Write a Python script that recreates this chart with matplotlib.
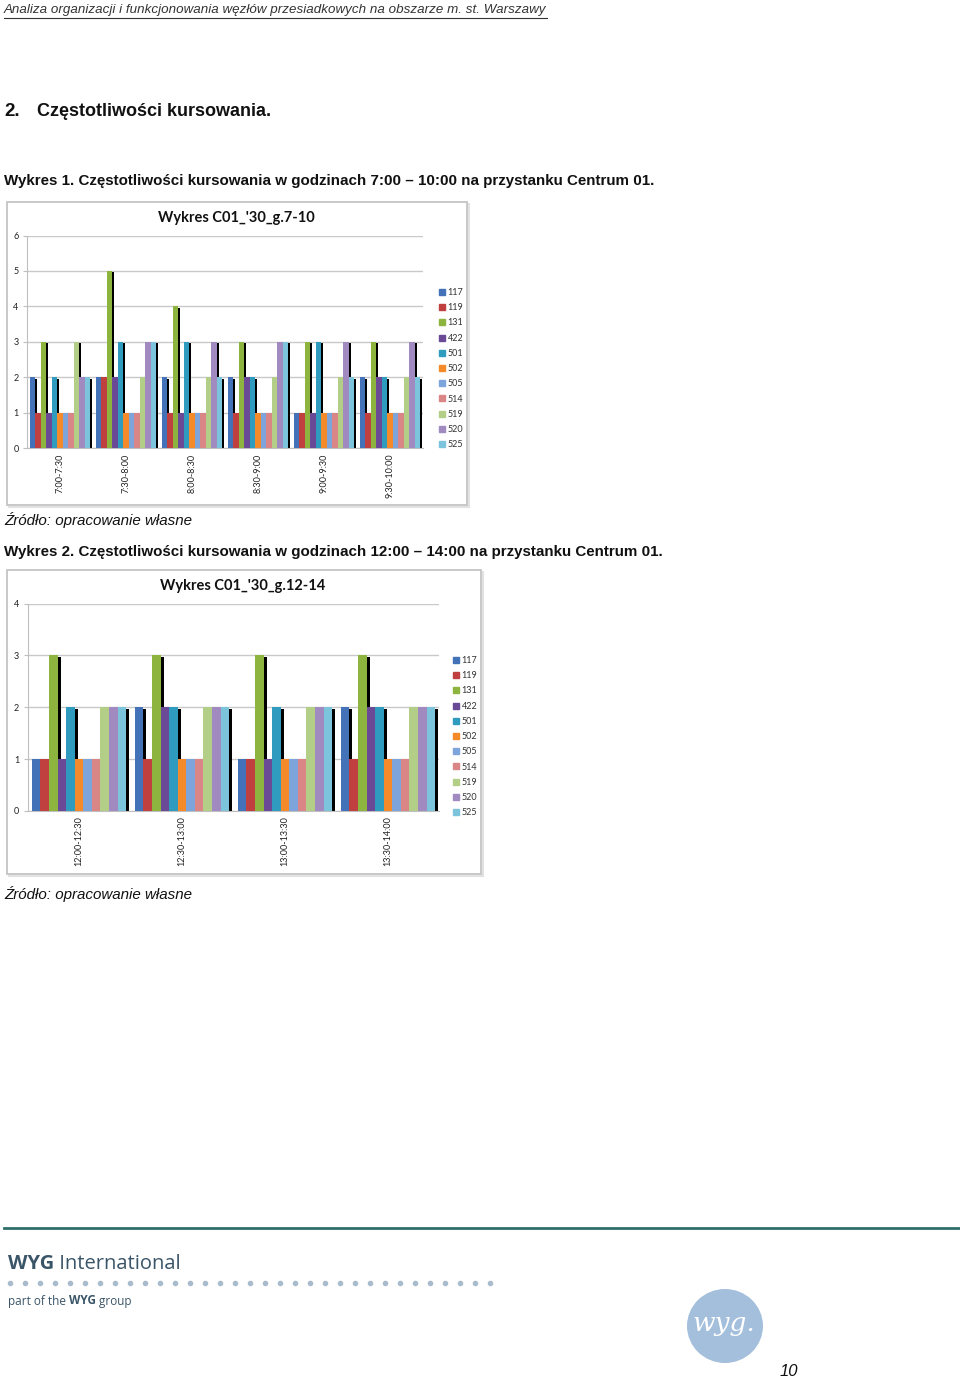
import numpy as np
import matplotlib
matplotlib.use('agg')
import matplotlib.pyplot as plt
from matplotlib.patches import Rectangle, Ellipse
from matplotlib.lines import Line2D

W, H = 960, 1380

# --- data ---------------------------------------------------------------
lines = ['117', '119', '131', '422', '501', '502', '505', '514', '519', '520', '525']
colors = ['#4472B8', '#C0403F', '#8DB43F', '#6A4A96', '#2E9BBF', '#F48A2A',
          '#7EA4DC', '#DB8686', '#B3CF87', '#A08AC0', '#7CC4DC']

slots1 = ['7:00-7:30', '7:30-8:00', '8:00-8:30', '8:30-9:00', '9:00-9:30', '9:30-10:00']
# one row per line, one column per time slot
freq1 = [[2, 2, 2, 2, 1, 2],
         [1, 2, 1, 1, 1, 1],
         [3, 5, 4, 3, 3, 3],
         [1, 2, 1, 2, 1, 2],
         [2, 3, 3, 2, 3, 2],
         [1, 1, 1, 1, 1, 1],
         [1, 1, 1, 1, 1, 1],
         [1, 1, 1, 1, 1, 1],
         [3, 2, 2, 2, 2, 2],
         [2, 3, 3, 3, 3, 3],
         [2, 3, 2, 3, 2, 2]]

slots2 = ['12:00-12:30', '12:30-13:00', '13:00-13:30', '13:30-14:00']
freq2 = [[1, 2, 1, 2],
         [1, 1, 1, 1],
         [3, 3, 3, 3],
         [1, 2, 1, 2],
         [2, 2, 2, 2],
         [1, 1, 1, 1],
         [1, 1, 1, 1],
         [1, 1, 1, 1],
         [2, 2, 2, 2],
         [2, 2, 2, 2],
         [2, 2, 2, 2]]

narrow = ['Liberation Sans Narrow', 'Liberation Sans']
chartfont = ['Lato', 'DejaVu Sans']
footfont = ['Open Sans', 'DejaVu Sans']
txtcol = '#111111'


def fx(x):
    return x / W


def fy(y):
    return 1 - y / H


fig = plt.figure(figsize=(W / 100, H / 100), dpi=100)
fig.patch.set_facecolor('white')


def chart(frame, axbox, title, title_xy, slots, data, ymax, leg_xy):
    x0, y0, x1, y1 = frame
    # chart frame with a soft shadow
    fig.patches.append(Rectangle((fx(x0 + 2), fy(y1 + 2)), fx(x1 - x0), (y1 - y0) / H,
                                 transform=fig.transFigure, facecolor='none',
                                 edgecolor='#e2e2e2', lw=1.5, zorder=-2))
    fig.patches.append(Rectangle((fx(x0), fy(y1)), fx(x1 - x0), (y1 - y0) / H,
                                 transform=fig.transFigure, facecolor='white',
                                 edgecolor='#c4c4c4', lw=1.3, zorder=-1))
    l, r, top, bot = axbox
    ax = fig.add_axes([fx(l), fy(bot), fx(r - l), (bot - top) / H])
    ax.set_zorder(1)
    ax.set_facecolor('none')
    n = len(lines)
    ng = len(slots)
    w = 1.0 / (n + 1)
    xg = np.arange(ng)
    for i in range(n):
        xs = xg - 0.5 + w / 2 + (i + 0.5) * w
        vals = np.array(data[i], dtype=float)
        # black drop shadow behind the bars
        ax.bar(xs + 0.35 * w, vals - 0.04 * ymax / 6, width=w, color='black',
               zorder=2, linewidth=0)
        ax.bar(xs, vals, width=w, color=colors[i], zorder=3, linewidth=0,
               label=lines[i])
    ax.set_xlim(-0.5, ng - 0.5)
    ax.set_ylim(0, ymax)
    ax.set_yticks(range(ymax + 1))
    ax.set_xticks(xg)
    ax.set_xticklabels(slots, rotation=90, fontsize=6.5, family=chartfont, color='#222222')
    ax.tick_params(axis='x', length=0, pad=4)
    ax.tick_params(axis='y', length=3, color='#bfbfbf', labelsize=6.5, pad=3,
                   labelcolor='#222222')
    for t in ax.get_yticklabels():
        t.set_family(chartfont)
    ax.grid(axis='y', color='#c8c8c8', lw=1, zorder=1)
    for s in ['top', 'right']:
        ax.spines[s].set_visible(False)
    ax.spines['left'].set_color('#bfbfbf')
    ax.spines['bottom'].set_color('#bfbfbf')
    ax.set_axisbelow(True)

    fig.text(fx(title_xy[0]), fy(title_xy[1]), title, ha='center', va='center',
             fontsize=10.5, fontweight='bold', family=chartfont, color='#111111')

    handles = [Line2D([], [], marker='s', ls='none', markersize=4, color=c) for c in colors]
    leg = fig.legend(handles, lines, loc='upper left',
                     bbox_to_anchor=(fx(leg_xy[0]), fy(leg_xy[1])),
                     frameon=False, handlelength=0.6,
                     handletextpad=0.3, labelspacing=0.69, borderpad=0,
                     prop={'family': chartfont, 'size': 6.5})
    for t in leg.get_texts():
        t.set_color('#333333')
    return ax


def run_text(x, y, pieces, size, family, color):
    # write pieces one after another on one line (mixed bold / regular)
    fig.canvas.draw()
    inv = fig.transFigure.inverted()
    cur = fx(x)
    for s, weight in pieces:
        t = fig.text(cur, fy(y), s, ha='left', va='center', fontsize=size,
                     fontweight=weight, family=family, color=color)
        bb = t.get_window_extent(renderer=fig.canvas.get_renderer()).transformed(inv)
        cur = bb.x1


# --- page text -----------------------------------------------------------
hdr = fig.text(fx(4), fy(9.5), 'Analiza organizacji i funkcjonowania węzłów przesiadkowych na obszarze m. st. Warszawy',
               ha='left', va='center', fontsize=9.6, style='italic', family=narrow, color='#333333')
fig.text(fx(4), fy(111.5), '2.', ha='left', va='center', fontsize=13.5,
         fontweight='bold', family=narrow, color=txtcol)
fig.text(fx(37), fy(111.5), 'Częstotliwości kursowania.', ha='left', va='center', fontsize=13,
         fontweight='bold', family=narrow, color=txtcol)
fig.text(fx(4), fy(181), 'Wykres 1. Częstotliwości kursowania w godzinach 7:00 – 10:00 na przystanku Centrum 01.',
         ha='left', va='center', fontsize=10.9, fontweight='bold', family=narrow, color=txtcol)
fig.text(fx(4), fy(520), 'Źródło: opracowanie własne', ha='left', va='center', fontsize=10.9,
         style='italic', family=narrow, color=txtcol)
fig.text(fx(4), fy(552), 'Wykres 2. Częstotliwości kursowania w godzinach 12:00 – 14:00 na przystanku Centrum 01.',
         ha='left', va='center', fontsize=10.9, fontweight='bold', family=narrow, color=txtcol)
fig.text(fx(4), fy(894), 'Źródło: opracowanie własne', ha='left', va='center', fontsize=10.9,
         style='italic', family=narrow, color=txtcol)

# --- charts --------------------------------------------------------------
chart((7, 202, 467, 505), (27, 423, 235.5, 448), "Wykres C01_'30_g.7-10", (236, 218),
      slots1, freq1, 6, (435, 283.5))
chart((7, 570, 481, 874), (27.5, 439.5, 603.5, 811), "Wykres C01_'30_g.12-14", (243, 586),
      slots2, freq2, 4, (449, 651.5))

# --- footer --------------------------------------------------------------
fig.add_artist(Line2D([fx(4), fx(960)], [fy(1228), fy(1228)], transform=fig.transFigure,
                      color='#2f6e6a', lw=2))
footcol = '#3b5568'
run_text(8, 1264, [('WYG', 'bold'), (' International', 'normal')], 14.5, footfont, footcol)
dots_x = np.arange(10, 495, 15)
fig.add_artist(Line2D(fx(dots_x), np.full(len(dots_x), fy(1283)), transform=fig.transFigure,
                      ls='none', marker='o', markersize=3, color='#a9bccd'))
run_text(8, 1301, [('part of the ', 'normal'), ('WYG', 'bold'), (' group', 'normal')],
         8.5, footfont, footcol)
fig.patches.append(Ellipse((fx(725), fy(1326)), fx(76), 74 / H, transform=fig.transFigure,
                           facecolor='#a4bfdc', edgecolor='none'))
fig.text(fx(724), fy(1323), 'wyg.', ha='center', va='center', fontsize=19, style='italic',
         family=['DejaVu Serif'], color='white')
fig.text(fx(789), fy(1372), '10', ha='center', va='center', fontsize=12, style='italic',
         family=narrow, color=txtcol)

# underline of the running header
fig.canvas.draw()
bb = hdr.get_window_extent().transformed(fig.transFigure.inverted())
fig.add_artist(Line2D([bb.x0, bb.x1], [fy(17.5), fy(17.5)], transform=fig.transFigure,
                      color='#333333', lw=0.8))

fig.savefig('out.png', dpi=100, facecolor='white')
